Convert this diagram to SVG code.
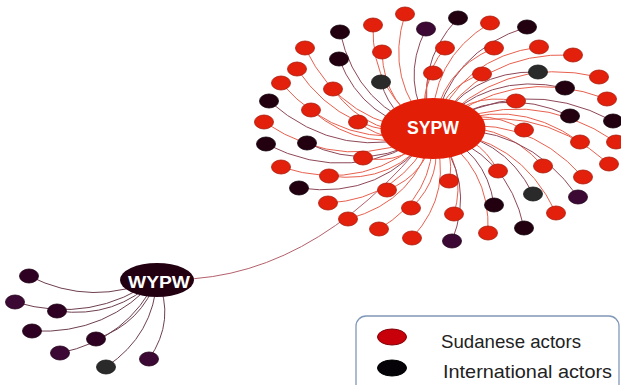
<svg xmlns="http://www.w3.org/2000/svg" width="621" height="385" viewBox="0 0 621 385">
<style>
.er{fill:none;stroke:#e8604e;stroke-width:1}
.ed{fill:none;stroke:#8e4858;stroke-width:1}
.ew{fill:none;stroke:#6e3f50;stroke-width:1}
.el{fill:none;stroke:#b4606c;stroke-width:1}
.r{fill:#e3200b;stroke:#a81a0c;stroke-width:0.8}
.d{fill:#220010;stroke:#12000a;stroke-width:0.8}
.p{fill:#3c0834;stroke:#22001c;stroke-width:0.8}
.g{fill:#2a2a2a;stroke:#181818;stroke-width:0.8}
.w{fill:#2e0022;stroke:#1a0012;stroke-width:0.8}
.hub{font-family:"Liberation Sans",Arial,sans-serif;font-weight:bold;fill:#fff;text-anchor:middle}
.lg{font-family:"Liberation Sans",Arial,sans-serif;font-size:19px;fill:#222}
</style>
<g id="connectors">
<path class="el" d="M433,131 Q308,288 157,279"/>
<path class="er" d="M433,131 Q384,81 405,14"/>
<path class="er" d="M433,131 Q371,96 373,25"/>
<path class="ed" d="M433,131 Q399,82 426,29"/>
<path class="ed" d="M433,131 Q412,67 458,18"/>
<path class="er" d="M433,131 Q429,60 490,23"/>
<path class="ed" d="M433,131 Q449,51 527,27"/>
<path class="ed" d="M433,131 Q357,109 340,32"/>
<path class="er" d="M433,131 Q344,128 305,48"/>
<path class="er" d="M433,131 Q384,107 382,52"/>
<path class="er" d="M433,131 Q414,86 445,48"/>
<path class="er" d="M433,131 Q439,71 494,48"/>
<path class="er" d="M433,131 Q461,57 539,47"/>
<path class="er" d="M433,131 Q480,51 573,55"/>
<path class="ed" d="M433,131 Q364,123 339,59"/>
<path class="er" d="M433,131 Q346,141 297,69"/>
<path class="er" d="M433,131 Q416,102 433,73"/>
<path class="er" d="M433,131 Q440,88 482,74"/>
<path class="ed" d="M433,131 Q468,70 538,72"/>
<path class="er" d="M433,131 Q500,54 599,77"/>
<path class="er" d="M433,131 Q343,153 281,83"/>
<path class="er" d="M433,131 Q370,140 333,89"/>
<path class="ed" d="M433,131 Q392,122 381,82"/>
<path class="ed" d="M433,131 Q486,70 565,88"/>
<path class="er" d="M433,131 Q510,63 607,99"/>
<path class="ed" d="M433,131 Q342,165 269,101"/>
<path class="er" d="M433,131 Q466,91 516,101"/>
<path class="er" d="M433,131 Q366,157 311,110"/>
<path class="er" d="M433,131 Q346,177 264,122"/>
<path class="er" d="M433,131 Q393,149 358,122"/>
<path class="ed" d="M433,131 Q497,82 570,116"/>
<path class="ed" d="M433,131 Q520,72 613,121"/>
<path class="er" d="M433,131 Q478,103 524,130"/>
<path class="ed" d="M433,131 Q353,188 266,144"/>
<path class="ed" d="M433,131 Q374,175 307,143"/>
<path class="er" d="M433,131 Q406,166 363,158"/>
<path class="er" d="M433,131 Q510,92 580,142"/>
<path class="er" d="M433,131 Q528,82 616,142"/>
<path class="er" d="M433,131 Q368,195 281,167"/>
<path class="er" d="M433,131 Q395,185 329,176"/>
<path class="er" d="M433,131 Q499,116 543,166"/>
<path class="er" d="M433,131 Q531,95 609,164"/>
<path class="er" d="M433,131 Q478,132 498,171"/>
<path class="er" d="M433,131 Q456,151 449,181"/>
<path class="er" d="M433,131 Q522,109 583,177"/>
<path class="ed" d="M433,131 Q383,200 299,188"/>
<path class="er" d="M433,131 Q428,174 387,190"/>
<path class="ed" d="M433,131 Q502,133 533,194"/>
<path class="ed" d="M433,131 Q525,121 578,197"/>
<path class="er" d="M433,131 Q402,199 328,203"/>
<path class="er" d="M433,131 Q445,176 411,208"/>
<path class="ed" d="M433,131 Q486,150 494,205"/>
<path class="er" d="M433,131 Q468,166 454,214"/>
<path class="er" d="M433,131 Q519,135 556,213"/>
<path class="er" d="M433,131 Q417,201 348,219"/>
<path class="er" d="M433,131 Q435,196 379,229"/>
<path class="ed" d="M433,131 Q508,152 524,228"/>
<path class="er" d="M433,131 Q455,191 412,238"/>
<path class="ed" d="M433,131 Q476,180 452,241"/>
<path class="er" d="M433,131 Q491,166 488,233"/>
<path class="ew" d="M157,278 Q93,308 29,276"/>
<path class="ew" d="M157,278 Q92,325 15,302"/>
<path class="ew" d="M157,278 Q116,319 57,311"/>
<path class="ew" d="M157,278 Q108,335 32,331"/>
<path class="ew" d="M157,278 Q142,323 96,339"/>
<path class="ew" d="M157,278 Q128,339 60,353"/>
<path class="ew" d="M157,278 Q154,335 106,367"/>
<path class="ew" d="M157,278 Q176,320 149,359"/>
</g>
<g id="s1"><ellipse class="r" cx="405" cy="14" rx="9.5" ry="7"/></g>
<g id="s2"><ellipse class="r" cx="373" cy="25" rx="9.5" ry="7"/></g>
<g id="s3"><ellipse class="p" cx="426" cy="29" rx="9.5" ry="7"/></g>
<g id="s4"><ellipse class="d" cx="458" cy="18" rx="9.5" ry="7"/></g>
<g id="s5"><ellipse class="r" cx="490" cy="23" rx="9.5" ry="7"/></g>
<g id="s6"><ellipse class="d" cx="527" cy="27" rx="9.5" ry="7"/></g>
<g id="s7"><ellipse class="d" cx="340" cy="32" rx="9.5" ry="7"/></g>
<g id="s8"><ellipse class="r" cx="305" cy="48" rx="9.5" ry="7"/></g>
<g id="s9"><ellipse class="r" cx="382" cy="52" rx="9.5" ry="7"/></g>
<g id="s10"><ellipse class="r" cx="445" cy="48" rx="9.5" ry="7"/></g>
<g id="s11"><ellipse class="r" cx="494" cy="48" rx="9.5" ry="7"/></g>
<g id="s12"><ellipse class="r" cx="539" cy="47" rx="9.5" ry="7"/></g>
<g id="s13"><ellipse class="r" cx="573" cy="55" rx="9.5" ry="7"/></g>
<g id="s14"><ellipse class="d" cx="339" cy="59" rx="9.5" ry="7"/></g>
<g id="s15"><ellipse class="r" cx="297" cy="69" rx="9.5" ry="7"/></g>
<g id="s16"><ellipse class="r" cx="433" cy="73" rx="9.5" ry="7"/></g>
<g id="s17"><ellipse class="r" cx="482" cy="74" rx="9.5" ry="7"/></g>
<g id="s18"><ellipse class="g" cx="538" cy="72" rx="9.5" ry="7"/></g>
<g id="s19"><ellipse class="r" cx="599" cy="77" rx="9.5" ry="7"/></g>
<g id="s20"><ellipse class="r" cx="281" cy="83" rx="9.5" ry="7"/></g>
<g id="s21"><ellipse class="r" cx="333" cy="89" rx="9.5" ry="7"/></g>
<g id="s22"><ellipse class="g" cx="381" cy="82" rx="9.5" ry="7"/></g>
<g id="s23"><ellipse class="d" cx="565" cy="88" rx="9.5" ry="7"/></g>
<g id="s24"><ellipse class="r" cx="607" cy="99" rx="9.5" ry="7"/></g>
<g id="s25"><ellipse class="d" cx="269" cy="101" rx="9.5" ry="7"/></g>
<g id="s26"><ellipse class="r" cx="516" cy="101" rx="9.5" ry="7"/></g>
<g id="s27"><ellipse class="r" cx="311" cy="110" rx="9.5" ry="7"/></g>
<g id="s28"><ellipse class="r" cx="264" cy="122" rx="9.5" ry="7"/></g>
<g id="s29"><ellipse class="r" cx="358" cy="122" rx="9.5" ry="7"/></g>
<g id="s30"><ellipse class="d" cx="570" cy="116" rx="9.5" ry="7"/></g>
<g id="s31"><ellipse class="d" cx="613" cy="121" rx="9.5" ry="7"/></g>
<g id="s32"><ellipse class="r" cx="524" cy="130" rx="9.5" ry="7"/></g>
<g id="s33"><ellipse class="d" cx="266" cy="144" rx="9.5" ry="7"/></g>
<g id="s34"><ellipse class="d" cx="307" cy="143" rx="9.5" ry="7"/></g>
<g id="s35"><ellipse class="r" cx="363" cy="158" rx="9.5" ry="7"/></g>
<g id="s36"><ellipse class="r" cx="580" cy="142" rx="9.5" ry="7"/></g>
<g id="s37"><ellipse class="r" cx="616" cy="142" rx="9.5" ry="7"/></g>
<g id="s38"><ellipse class="r" cx="281" cy="167" rx="9.5" ry="7"/></g>
<g id="s39"><ellipse class="r" cx="329" cy="176" rx="9.5" ry="7"/></g>
<g id="s40"><ellipse class="r" cx="543" cy="166" rx="9.5" ry="7"/></g>
<g id="s41"><ellipse class="r" cx="609" cy="164" rx="9.5" ry="7"/></g>
<g id="s42"><ellipse class="r" cx="498" cy="171" rx="9.5" ry="7"/></g>
<g id="s43"><ellipse class="r" cx="449" cy="181" rx="9.5" ry="7"/></g>
<g id="s44"><ellipse class="r" cx="583" cy="177" rx="9.5" ry="7"/></g>
<g id="s45"><ellipse class="d" cx="299" cy="188" rx="9.5" ry="7"/></g>
<g id="s46"><ellipse class="r" cx="387" cy="190" rx="9.5" ry="7"/></g>
<g id="s47"><ellipse class="g" cx="533" cy="194" rx="9.5" ry="7"/></g>
<g id="s48"><ellipse class="p" cx="578" cy="197" rx="9.5" ry="7"/></g>
<g id="s49"><ellipse class="r" cx="328" cy="203" rx="9.5" ry="7"/></g>
<g id="s50"><ellipse class="r" cx="411" cy="208" rx="9.5" ry="7"/></g>
<g id="s51"><ellipse class="d" cx="494" cy="205" rx="9.5" ry="7"/></g>
<g id="s52"><ellipse class="r" cx="454" cy="214" rx="9.5" ry="7"/></g>
<g id="s53"><ellipse class="r" cx="556" cy="213" rx="9.5" ry="7"/></g>
<g id="s54"><ellipse class="r" cx="348" cy="219" rx="9.5" ry="7"/></g>
<g id="s55"><ellipse class="r" cx="379" cy="229" rx="9.5" ry="7"/></g>
<g id="s56"><ellipse class="d" cx="524" cy="228" rx="9.5" ry="7"/></g>
<g id="s57"><ellipse class="r" cx="412" cy="238" rx="9.5" ry="7"/></g>
<g id="s58"><ellipse class="p" cx="452" cy="241" rx="9.5" ry="7"/></g>
<g id="s59"><ellipse class="r" cx="488" cy="233" rx="9.5" ry="7"/></g>
<g id="w1"><ellipse class="w" cx="29" cy="276" rx="9.5" ry="7"/></g>
<g id="w2"><ellipse class="p" cx="15" cy="302" rx="9.5" ry="7"/></g>
<g id="w3"><ellipse class="w" cx="57" cy="311" rx="9.5" ry="7"/></g>
<g id="w4"><ellipse class="w" cx="32" cy="331" rx="9.5" ry="7"/></g>
<g id="w5"><ellipse class="w" cx="96" cy="339" rx="9.5" ry="7"/></g>
<g id="w6"><ellipse class="p" cx="60" cy="353" rx="9.5" ry="7"/></g>
<g id="w7"><ellipse class="g" cx="106" cy="367" rx="9.5" ry="7"/></g>
<g id="w8"><ellipse class="p" cx="149" cy="359" rx="9.5" ry="7"/></g>
<g id="SYPW"><ellipse cx="433" cy="128.5" rx="52.5" ry="30.5" fill="#e31e06"/><text class="hub" x="433" y="134" font-size="17.5" textLength="52" lengthAdjust="spacingAndGlyphs">SYPW</text></g>
<g id="WYPW"><ellipse cx="157" cy="280" rx="37" ry="17" fill="#220012"/><text class="hub" x="159" y="288" font-size="17" textLength="62" lengthAdjust="spacingAndGlyphs">WYPW</text></g>
<g id="legend">
<rect x="356" y="316" width="263" height="90" rx="10" fill="#fff" stroke="#8098b8" stroke-width="1.3"/>
<ellipse cx="392" cy="337" rx="14.5" ry="8" fill="#c8000a" stroke="#800008" stroke-width="1"/>
<ellipse cx="392" cy="368" rx="14.5" ry="8" fill="#050208" stroke="#000" stroke-width="1"/>
<text class="lg" x="441" y="348" textLength="140" lengthAdjust="spacingAndGlyphs">Sudanese actors</text>
<text class="lg" x="443" y="378" textLength="169" lengthAdjust="spacingAndGlyphs">International actors</text>
</g>
</svg>
